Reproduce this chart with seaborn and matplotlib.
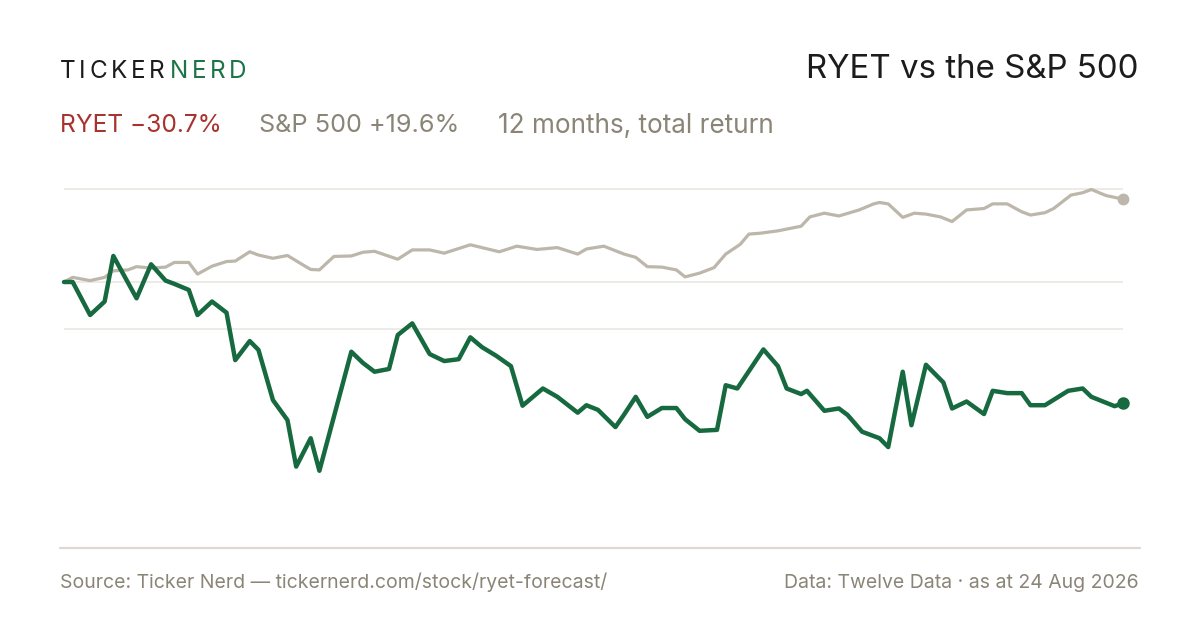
import matplotlib
matplotlib.use("Agg")
import matplotlib.pyplot as plt
import seaborn as sns
import pandas as pd
from matplotlib.lines import Line2D

# ---------------- data (day of 12-month window, % total return) ----------------
ryet_days = [0, 3, 9, 14, 17, 25, 30, 35, 38, 43, 46, 51, 56, 59, 64, 67, 72, 77, 80, 85,
             88, 99, 103, 107, 112, 115, 120, 126, 131, 136, 140, 144, 149, 154, 158, 165,
             170, 177, 180, 184, 190, 193, 197, 201, 206, 211, 214, 219, 225, 228, 232,
             241, 246, 249, 254, 256, 262, 267, 270, 275, 281, 284, 289, 292, 297, 303,
             306, 311, 317, 320, 325, 330, 333, 338, 346, 351, 354, 362, 365]
ryet_ret = [0.0, 0.0, -7.1, -4.2, 5.6, -3.5, 3.8, 0.3, -0.4, -1.7, -7.1, -4.2, -6.6, -16.8,
            -12.7, -14.6, -25.4, -29.7, -39.7, -33.6, -40.6, -15.0, -17.4, -19.3, -18.7,
            -11.4, -8.9, -15.5, -17.0, -16.6, -11.9, -14.0, -15.9, -18.1, -26.6, -22.9,
            -24.7, -28.1, -26.5, -27.5, -31.2, -28.5, -24.7, -29.0, -27.1, -27.1, -29.5,
            -32.0, -31.8, -22.2, -22.9, -14.5, -18.1, -22.9, -24.1, -23.4, -27.7, -27.2,
            -28.6, -32.2, -33.6, -35.5, -19.3, -30.8, -17.8, -21.6, -27.2, -25.7, -28.4,
            -23.4, -23.9, -23.9, -26.5, -26.5, -23.4, -22.9, -24.7, -26.7, -26.1]

spx_days = [0, 3, 9, 14, 17, 22, 25, 30, 35, 38, 43, 46, 51, 56, 59, 64, 67, 72, 77, 82,
            85, 88, 93, 99, 103, 107, 115, 120, 126, 131, 140, 150, 156, 163, 170, 177,
            180, 186, 193, 197, 201, 206, 211, 214, 219, 224, 228, 233, 236, 240, 246,
            254, 257, 262, 267, 274, 279, 281, 284, 289, 293, 297, 302, 306, 311, 317,
            320, 325, 330, 333, 338, 341, 347, 351, 354, 359, 362, 365]
spx_ret = [0.0, 1.0, 0.3, 1.0, 2.4, 2.6, 3.3, 3.0, 3.2, 4.2, 4.2, 1.7, 3.4, 4.4, 4.5, 6.5,
           5.8, 5.1, 5.7, 3.8, 2.7, 2.6, 5.5, 5.6, 6.4, 6.6, 4.9, 6.9, 6.9, 6.2, 8.0, 6.5,
           7.7, 7.0, 7.4, 6.0, 7.1, 7.7, 6.0, 5.3, 3.3, 3.2, 2.6, 1.1, 1.9, 3.1, 6.0, 8.1,
           10.3, 10.5, 11.0, 12.0, 14.0, 14.8, 14.2, 15.5, 16.8, 17.1, 16.8, 13.9, 14.8,
           14.6, 14.0, 13.0, 15.5, 15.8, 16.8, 16.8, 15.1, 14.4, 14.9, 15.8, 18.7, 19.2,
           19.9, 18.6, 18.2, 17.8]

grid_levels = [20, 0, -10]

title = "RYET vs the S&P 500"
ryet_label = "RYET \u221230.7%"
spx_label = "S&P 500 +19.6%"
period_label = "12 months, total return"
source_text = "Source: Ticker Nerd \u2014 tickernerd.com/stock/ryet-forecast/"
data_text = "Data: Twelve Data \u00b7 as at 24 Aug 2026"

# ---------------- style ----------------
GREEN = "#176A3F"
NERD_GREEN = "#1D7446"
GREY_LINE = "#BDB6AA"
GREY_TEXT = "#8A8577"
RED = "#A8322D"
DARK = "#1C1C1C"
GRID = "#ECE9E3"
RULE = "#DEDAD0"

sns.set_theme(style="white")
plt.rcParams["font.family"] = ["Inter", "DejaVu Sans"]

W, H = 1200, 630
fig = plt.figure(figsize=(12, 6.3), dpi=100)
fig.patch.set_facecolor("white")

def fx(px):
    return px / W

def fy(py):
    return 1 - py / H

# axes: x 64..1123, y 170..548 px
ax_top, ax_bot = 170, 548
zero_px, px_per_pct = 282, 4.65
ax = fig.add_axes([fx(64), fy(ax_bot), fx(1123.3) - fx(64), (ax_bot - ax_top) / H])
ax.set_xlim(0, 365)
ax.set_ylim((zero_px - ax_bot) / px_per_pct, (zero_px - ax_top) / px_per_pct)
ax.set_facecolor("none")
for s in ax.spines.values():
    s.set_visible(False)
ax.set_xticks([])
ax.set_yticks([])

for g in grid_levels:
    ax.axhline(g, color=GRID, lw=1.3, zorder=1)

spx_df = pd.DataFrame({"day": spx_days, "ret": spx_ret})
ryet_df = pd.DataFrame({"day": ryet_days, "ret": ryet_ret})

sns.lineplot(data=spx_df, x="day", y="ret", ax=ax, color=GREY_LINE, lw=2.3,
             zorder=3, solid_joinstyle="round", solid_capstyle="round", clip_on=False)
sns.lineplot(data=ryet_df, x="day", y="ret", ax=ax, color=GREEN, lw=3.2,
             zorder=4, solid_joinstyle="round", solid_capstyle="round", clip_on=False)
ax.plot(spx_days[-1], spx_ret[-1], "o", color=GREY_LINE, ms=7.5, zorder=5, clip_on=False)
ax.plot(ryet_days[-1], ryet_ret[-1], "o", color=GREEN, ms=8, zorder=6, clip_on=False)
ax.set_xlabel("")
ax.set_ylabel("")

# bottom rule
fig.add_artist(Line2D([fx(60), fx(1140)], [fy(548), fy(548)], color=RULE, lw=1.6))

# ---------------- texts ----------------
renderer = fig.canvas.get_renderer()

def spaced(text, x_px, y_px, color, size, tracking_px):
    x = x_px
    for ch in text:
        t = fig.text(fx(x), fy(y_px), ch, color=color, fontsize=size,
                     ha="left", va="baseline")
        w = t.get_window_extent(renderer=renderer).width
        x += w + tracking_px
    return x

spaced("TICKER", 60, 78, DARK, 17.5, 3.6)
spaced("NERD", 170, 78, NERD_GREEN, 17.5, 3.6)

fig.text(fx(1138), fy(78), title, color=DARK, fontsize=23.8, ha="right", va="baseline")

fig.text(fx(60), fy(132.5), ryet_label, color=RED, fontsize=17.7, ha="left", va="baseline")
fig.text(fx(259), fy(132.5), spx_label, color=GREY_TEXT, fontsize=18.2, ha="left", va="baseline")
fig.text(fx(498), fy(132.5), period_label, color=GREY_TEXT, fontsize=18.8, ha="left", va="baseline")

fig.text(fx(60), fy(588), source_text, color=GREY_TEXT, fontsize=14.0, ha="left", va="baseline")
fig.text(fx(1139), fy(588), data_text, color=GREY_TEXT, fontsize=14.0, ha="right", va="baseline")

fig.savefig("out.png", dpi=100, facecolor="white")
